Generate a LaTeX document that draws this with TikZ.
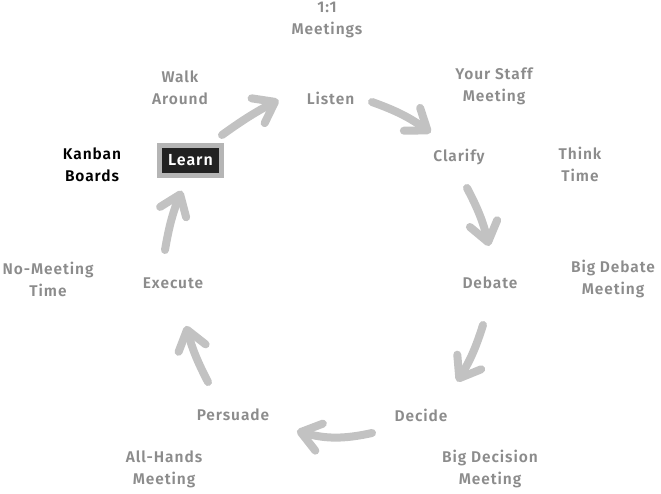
\documentclass[tikz,border=0pt]{standalone}
\usepackage{fontspec}
\setmainfont{Fira Sans}[LetterSpace=6, BoldFont={Fira Sans SemiBold}]
\usetikzlibrary{arrows.meta}
\definecolor{txtgray}{HTML}{8C8C8C}
\definecolor{flowgray}{HTML}{C2C2C2}
\definecolor{boxgray}{HTML}{B5B5B5}
\definecolor{boxdark}{HTML}{222222}

\begin{document}
\begin{tikzpicture}[x=1pt, y=-1pt,
	stage/.style={text=txtgray, align=center, inner sep=0pt,
		font=\fontsize{15.5}{22}\selectfont\bfseries},
	meet/.style={stage},
	flow/.style={flowgray, line width=8pt, line cap=round,
		-{Straight Barb[length=19pt, width=28pt, round]}},
	learnbox/.style={fill=boxdark, draw=boxgray, line width=5pt, text=white,
		minimum width=62pt, minimum height=30pt, inner sep=0pt,
		font=\fontsize{16}{22}\selectfont\bfseries}]
	\useasboundingbox (0,0) rectangle (661,493);

	% cycle
	\node[stage] (listen) at (330.5,98) {Listen};
	\node[stage] (clarify) at (459,157) {Clarify};
	\node[stage] (debate) at (490,283) {Debate};
	\node[stage] (decide) at (421,415) {Decide};
	\node[stage] (persuade) at (233,415) {Persuade};
	\node[stage] (execute) at (173,283) {Execute};
	\node[learnbox] (learn) at (190.5,160.5) {Learn};

	% meetings
	\node[meet] (oneone) at (327,20) {1:1\\Meetings};
	\node[meet] (staff) at (494,86) {Your Staff\\Meeting};
	\node[meet] (think) at (580,164) {Think\\Time};
	\node[meet] (bigdebate) at (613,279) {Big Debate\\Meeting};
	\node[meet] (bigdecision) at (490,469) {Big Decision\\Meeting};
	\node[meet] (allhands) at (164,469) {All-Hands\\Meeting};
	\node[meet] (nomeeting) at (48,279) {No-Meeting\\Time};
	\node[meet] (walk) at (180,88) {Walk\\Around};
	\node[meet, text=black] (kanban) at (92,165) {Kanban\\Boards};

	\draw[flow] ([shift={(31.5,-25.5)}]learn.center) to[bend left=4] ([shift={(-52,2)}]listen.center);
	\draw[flow] ([shift={(41.5,4)}]listen.center) to[bend left=8] ([shift={(-28.3,-24.3)}]clarify.center);
	\draw[flow] ([shift={(8,31)}]clarify.center) to[bend left=7] ([shift={(-1,-37)}]debate.center);
	\draw[flow] ([shift={(-7,42)}]debate.center) to[bend left=7] ([shift={(36.2,-33.4)}]decide.center);
	\draw[flow] ([shift={(-49,18)}]decide.center) to[bend left=14] ([shift={(63.9,16)}]persuade.center);
	\draw[flow] ([shift={(-25,-33)}]persuade.center) to[bend left=6] ([shift={(13,42.9)}]execute.center);
	\draw[flow] ([shift={(-8,-33)}]execute.center) to[bend left=6] ([shift={(-8.9,30.2)}]learn.center);
\end{tikzpicture}
\end{document}
